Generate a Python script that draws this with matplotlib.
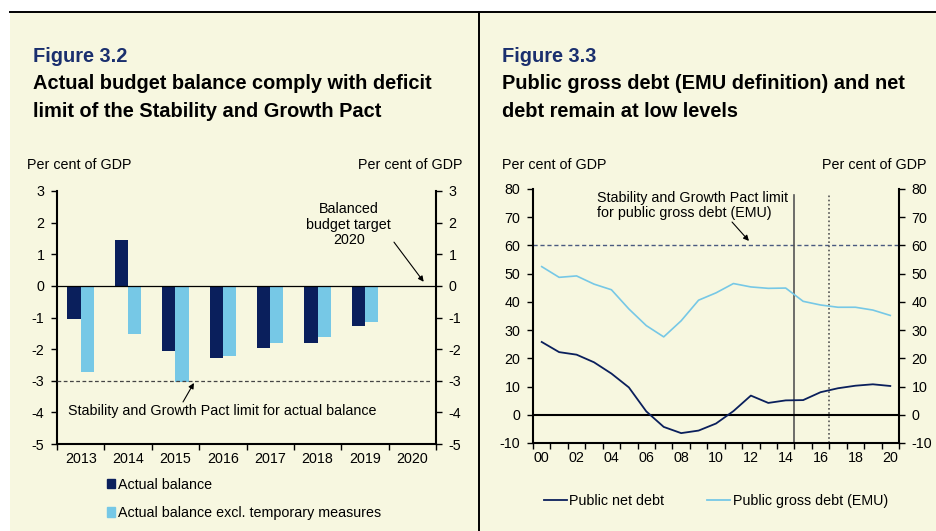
import matplotlib
matplotlib.use("Agg")
import matplotlib.pyplot as plt
from matplotlib.patches import Rectangle, Patch
from matplotlib.lines import Line2D
import numpy as np

plt.rcParams['font.family'] = ['Liberation Sans', 'DejaVu Sans']
plt.rcParams['axes.unicode_minus'] = False

# Figure 3.2 data: budget balance, per cent of GDP
years = ['2013', '2014', '2015', '2016', '2017', '2018', '2019', '2020']
actual_balance = [-1.06, 1.46, -2.07, -2.29, -1.95, -1.80, -1.28, 0.0]
balance_excl_temp = [-2.73, -1.52, -3.05, -2.22, -1.82, -1.63, -1.14, 0.0]
sgp_deficit_limit = -3

# Figure 3.3 data: public debt, per cent of GDP, 2000-2020
debt_years = list(range(2000, 2021))
net_debt = [25.8, 22.2, 21.3, 18.6, 14.6, 9.7, 1.2, -4.3, -6.5, -5.6, -3.1,
            1.3, 6.8, 4.2, 5.1, 5.2, 8.0, 9.4, 10.3, 10.8, 10.2]
gross_debt = [52.5, 48.7, 49.2, 46.3, 44.3, 37.5, 31.6, 27.6, 33.3, 40.6, 43.2,
              46.5, 45.3, 44.8, 44.9, 40.2, 38.9, 38.1, 38.1, 37.1, 35.2]
sgp_debt_limit = 60

DARK = '#0a1f5c'
LIGHT = '#76c8e6'
BG = '#f7f7e0'
FIG_BLUE = '#1a2f6e'
FS = 10.3
TFS = 14.4

W, H = 936, 531
fig = plt.figure(figsize=(W / 100, H / 100), dpi=100, facecolor='white')


def fx(x):
    return x / W


def fy(y):
    return 1 - y / H


def axes_px(x0, y0, x1, y1):
    return fig.add_axes([fx(x0), fy(y1), fx(x1) - fx(x0), fy(y0) - fy(y1)])


# panel background and frame lines
fig.patches.append(Rectangle((fx(10), 0), 1 - fx(10), fy(12), transform=fig.transFigure,
                             facecolor=BG, edgecolor='none', zorder=-10))
fig.add_artist(Line2D([fx(10), 1], [fy(12), fy(12)], color='black', lw=1.4))
fig.add_artist(Line2D([fx(479), fx(479)], [0, fy(12)], color='black', lw=1.4))

# headings
for x0, num, lines in [(33, 'Figure 3.2', ['Actual budget balance comply with deficit',
                                          'limit of the Stability and Growth Pact']),
                       (502, 'Figure 3.3', ['Public gross debt (EMU definition) and net',
                                           'debt remain at low levels'])]:
    fig.text(fx(x0), fy(62), num, color=FIG_BLUE, fontsize=TFS, fontweight='bold')
    fig.text(fx(x0), fy(89), lines[0], color='black', fontsize=TFS, fontweight='bold')
    fig.text(fx(x0), fy(117), lines[1], color='black', fontsize=TFS, fontweight='bold')

fig.text(fx(27), fy(169), 'Per cent of GDP', fontsize=FS)
fig.text(fx(463), fy(169), 'Per cent of GDP', fontsize=FS, ha='right')
fig.text(fx(502), fy(169), 'Per cent of GDP', fontsize=FS)
fig.text(fx(927), fy(169), 'Per cent of GDP', fontsize=FS, ha='right')


def style_axes(ax):
    ax.set_facecolor('none')
    ax.spines['top'].set_visible(False)
    for s in ['left', 'right', 'bottom']:
        ax.spines[s].set_linewidth(1.5)
    ax.tick_params(axis='y', which='both', left=True, right=True, labelleft=True,
                   labelright=True, direction='out', length=4, width=1, labelsize=FS, pad=5)
    ax.tick_params(axis='x', which='major', length=0, labelsize=FS, pad=6)
    ax.tick_params(axis='x', which='minor', length=4, width=1, direction='out')


# ---- Figure 3.2: bars ----
ax1 = axes_px(57, 191, 436, 444)
style_axes(ax1)
x = np.arange(len(years))
w = 0.28
ax1.bar(x - 0.14, actual_balance, w, color=DARK, zorder=2)
ax1.bar(x + 0.14, balance_excl_temp, w, color=LIGHT, zorder=2)
ax1.axhline(0, color='black', lw=0.9, zorder=3)
ax1.plot([-0.5, 7.4], [sgp_deficit_limit] * 2, color='#444444', lw=0.9,
         linestyle=(0, (3, 2)), zorder=3)
ax1.set_xlim(-0.5, len(years) - 0.5)
ax1.set_ylim(-5, 3)
ax1.set_yticks(range(-5, 4))
ax1.set_xticks(x)
ax1.set_xticklabels(years)
ax1.set_xticks(np.arange(-0.5, len(years)), minor=True)

ax1.annotate('Balanced\nbudget target\n2020', xy=(7.24, 0.13), xytext=(5.66, 1.93),
             ha='center', va='center', fontsize=FS, linespacing=1.15,
             arrowprops=dict(arrowstyle='-|>', color='black', lw=0.8, mutation_scale=8,
                             shrinkA=0, shrinkB=0, relpos=(1.0, 0.2)))
ax1.annotate('', xy=(2.39, -3.07), xytext=(2.16, -3.67),
             arrowprops=dict(arrowstyle='-|>', color='black', lw=0.8, mutation_scale=8,
                             shrinkA=0, shrinkB=0))
ax1.text(-0.27, -3.96, 'Stability and Growth Pact limit for actual balance',
         fontsize=FS, va='center')

fig.legend([Patch(color=DARK), Patch(color=LIGHT)],
           ['Actual balance', 'Actual balance excl. temporary measures'],
           loc='upper left', bbox_to_anchor=(fx(101), fy(472)), frameon=False,
           fontsize=FS, handlelength=0.6, handleheight=0.6, handletextpad=0.2,
           labelspacing=1.0, borderaxespad=0)

# ---- Figure 3.3: lines ----
ax2 = axes_px(533, 189, 899, 443)
style_axes(ax2)
xi = np.arange(len(debt_years))
ax2.axhline(0, color='black', lw=1.5, zorder=3)
ax2.axhline(sgp_debt_limit, color='#4a5a80', lw=1, linestyle=(0, (3, 2)), zorder=2)
ax2.plot([14.5, 14.5], [-10, 78], color='#555555', lw=1.2, zorder=2)
ax2.plot([16.5, 16.5], [-10, 78], color='#555555', lw=1.2, linestyle=(0, (1, 1.5)), zorder=2)
ax2.plot(xi, net_debt, color=DARK, lw=1.3, zorder=4)
ax2.plot(xi, gross_debt, color=LIGHT, lw=1.2, zorder=4)
ax2.set_xlim(-0.5, len(debt_years) - 0.5)
ax2.set_ylim(-10, 80)
ax2.set_yticks(range(-10, 81, 10))
ax2.set_xticks(xi[::2])
ax2.set_xticklabels([f'{y % 100:02d}' for y in debt_years[::2]])
ax2.set_xticks(np.arange(-0.5, len(debt_years)), minor=True)

ax2.annotate('', xy=(11.89, 61.6), xytext=(10.92, 68.3),
             arrowprops=dict(arrowstyle='-|>', color='black', lw=0.8, mutation_scale=8,
                             shrinkA=0, shrinkB=0))
ax2.text(3.17, 74.2, 'Stability and Growth Pact limit\nfor public gross debt (EMU)',
         fontsize=FS, va='center', linespacing=1.15)

fig.legend([Line2D([], [], color=DARK, lw=1.3), Line2D([], [], color=LIGHT, lw=1.3)],
           ['Public net debt', 'Public gross debt (EMU)'],
           loc='upper left', bbox_to_anchor=(fx(538), fy(488)), frameon=False, ncol=2,
           fontsize=FS, handlelength=1.6, handletextpad=0.2, columnspacing=3.0,
           borderaxespad=0)

fig.savefig('out.png', dpi=100, facecolor=fig.get_facecolor())
